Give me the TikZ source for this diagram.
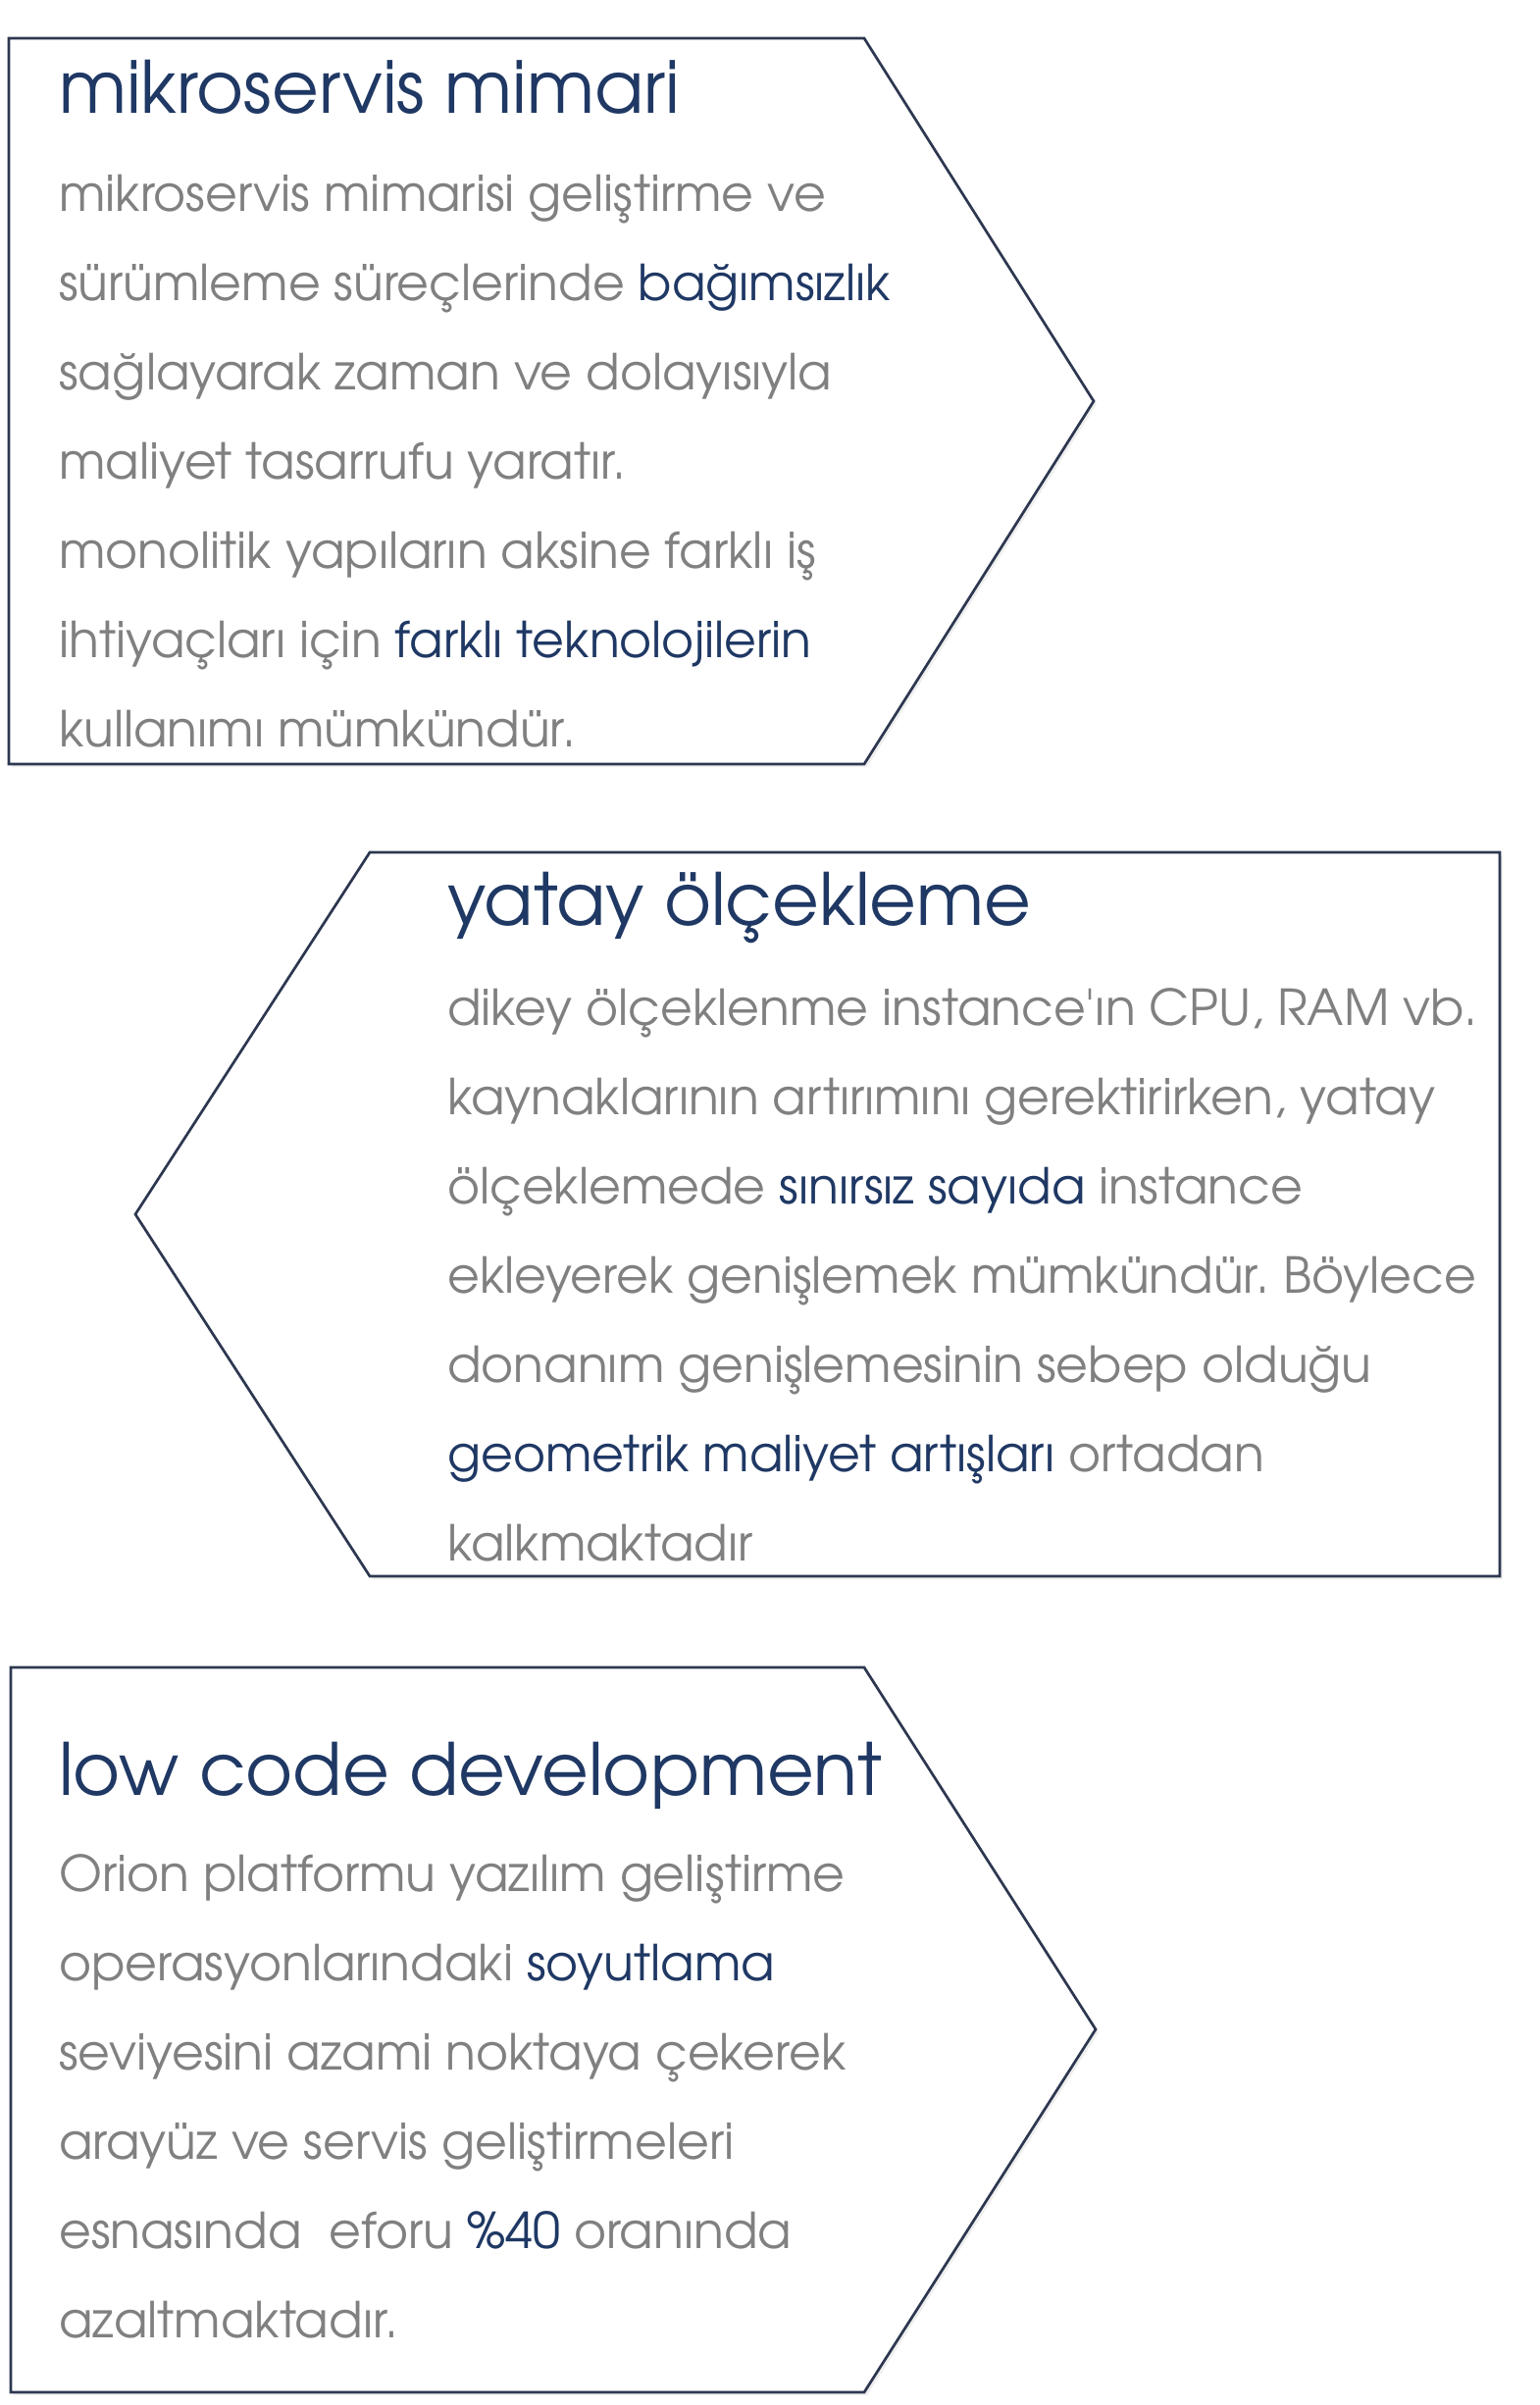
\documentclass[tikz,border=0pt]{standalone}
\usepackage{fontspec}
\setmainfont{TeX Gyre Adventor}
\usepackage{xcolor}
\usetikzlibrary{shadows}
\definecolor{framec}{RGB}{45, 55, 80}
\definecolor{navy}{RGB}{31, 56, 100}
\definecolor{greytext}{RGB}{128, 128, 128}

\newcommand{\hl}[1]{\textcolor{navy}{#1}}
\frenchspacing

\tikzset{
  panel/.style={draw=framec, line width=2.7pt, fill=white, line join=miter,
    drop shadow={opacity=0.12, shadow xshift=3pt, shadow yshift=-3pt}},
  ptitle/.style={anchor=base west, inner sep=0pt, text=navy, font=\fontsize{73.5}{80}\selectfont},
  pbody/.style={anchor=base west, inner sep=0pt, text=greytext, font=\fontsize{50.5}{91}\selectfont}
}

\begin{document}
\begin{tikzpicture}[x=1pt, y=-1pt]
      \useasboundingbox[fill=white] (0,0) rectangle (1569,2452);

      % Panels
      \draw[panel] (9,39) -- (881,39) -- (1115,409) -- (881,779) -- (9,779) -- cycle;
      \draw[panel] (138,1238) -- (377,869) -- (1529,869) -- (1529,1607) -- (377,1607) -- cycle;
      \draw[panel] (11,1700) -- (881,1700) -- (1117,2069) -- (881,2439) -- (11,2439) -- cycle;

      % Titles
      \node[ptitle] (t1) at (60,115) {mikroservis mimari};
      \node[ptitle] (t2) at (456,943) {yatay ölçekleme};
      \node[ptitle] (t3) at (60,1830) {low code development};

      % First panel text
      \foreach \i/\txt in {0/{mikroservis mimarisi geliştirme ve},
                           1/{sürümleme süreçlerinde \hl{bağımsızlık}},
                           2/{sağlayarak zaman ve dolayısıyla},
                           3/{maliyet tasarrufu yaratır.},
                           4/{monolitik yapıların aksine farklı iş},
                           5/{ihtiyaçları için \hl{farklı teknolojilerin}},
                           6/{kullanımı mümkündür.}} {
          \node[pbody] (a\i) at (60,215+91*\i) {\txt};
        }

      % Second panel text
      \foreach \i/\txt in {0/{dikey ölçeklenme instance\textquotesingle ın CPU, RAM vb.},
                           1/{kaynaklarının artırımını gerektirirken, yatay},
                           2/{ölçeklemede \hl{sınırsız sayıda} instance},
                           3/{ekleyerek genişlemek mümkündür. Böylece},
                           4/{donanım genişlemesinin sebep olduğu},
                           5/{\hl{geometrik maliyet artışları} ortadan},
                           6/{kalkmaktadır}} {
          \node[pbody] (b\i) at (456,1045+91*\i) {\txt};
        }

      % Third panel text
      \foreach \i/\txt in {0/{Orion platformu yazılım geliştirme},
                           1/{operasyonlarındaki \hl{soyutlama}},
                           2/{seviyesini azami noktaya çekerek},
                           3/{arayüz ve servis geliştirmeleri},
                           4/{esnasında \ eforu \hl{\%40} oranında},
                           5/{azaltmaktadır.}} {
          \node[pbody] (c\i) at (60,1928+91*\i) {\txt};
        }
    \end{tikzpicture}
\end{document}
